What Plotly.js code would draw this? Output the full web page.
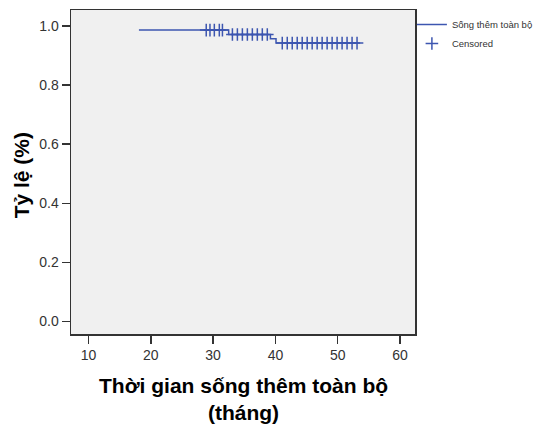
<!DOCTYPE html>
<html>
<head>
<meta charset="utf-8">
<script src="https://cdn.plot.ly/plotly-3.0.1.min.js"></script>
<style>html,body{margin:0;padding:0;background:#fff;}#chart{width:548px;height:426px;}</style>
</head>
<body>
<div id="chart"></div>
<script>
// Kaplan-Meier step function (time in months, survival proportion)
const stepTimes = [18.1, 32.5, 39.2, 40.1, 53.6];
const survival  = [0.986, 0.971, 0.957, 0.942, 0.942];

// Censored observation times
const censoredTimes = [28.9, 29.5, 30.2, 31.0, 31.5,
  33.1, 33.9, 34.7, 35.5, 36.3, 37.1, 37.9, 38.7,
  41.1, 41.9, 42.7, 43.5, 44.3, 45.1, 45.9, 46.7, 47.5, 48.3, 49.1, 49.9, 50.7, 51.5, 52.3, 53.1];

const seriesName = "Sống thêm toàn bộ";
const censoredName = "Censored";
const xTitleLines = ["Thời gian sống thêm toàn bộ", "(tháng)"];
const yTitle = "Tỷ lệ (%)";
const xTicks = [10, 20, 30, 40, 50, 60];
const yTicks = [0, 0.2, 0.4, 0.6, 0.8, 1.0];

function survAt(t) {
  let s = survival[0];
  for (let i = 0; i < stepTimes.length; i++) { if (t >= stepTimes[i]) s = survival[i]; }
  return s;
}
const censoredSurv = censoredTimes.map(survAt);

const blue = "#3d56b0";
const font = "Liberation Sans, Arial, sans-serif";

const traces = [
  {x: stepTimes, y: survival, type: "scatter", mode: "lines", line: {shape: "hv", color: blue, width: 1.5}, name: seriesName},
  {x: censoredTimes, y: censoredSurv, type: "scatter", mode: "markers", name: censoredName,
   marker: {symbol: "cross-thin-open", size: 9, color: blue, line: {color: blue, width: 1.5}}}
];

const axisCommon = {showgrid: false, zeroline: false, showline: true, linecolor: "#333", linewidth: 1.5, mirror: true,
  ticks: "outside", ticklen: 8, tickwidth: 1.5, tickcolor: "#333", tickfont: {family: font, size: 14, color: "#333"}};

const titleFont = {family: font, size: 21, color: "#000", weight: "bold"};

const layout = {
  width: 548, height: 426,
  margin: {l: 71, r: 131, t: 10, b: 92},
  paper_bgcolor: "#ffffff", plot_bgcolor: "#f0f0f0",
  showlegend: true,
  legend: {x: 0.991, y: 1.0, xanchor: "left", yanchor: "top", font: {family: font, size: 9.5, color: "#333"}, bgcolor: "rgba(0,0,0,0)", tracegroupgap: 0},
  xaxis: Object.assign({}, axisCommon, {range: [7.2, 62.4], tickvals: xTicks, ticktext: xTicks.map(String)}),
  yaxis: Object.assign({}, axisCommon, {range: [-0.042, 1.054], tickvals: yTicks, ticktext: yTicks.map(v => v.toFixed(1))}),
  annotations: [
    {text: xTitleLines.join("<br>"), xref: "paper", yref: "paper", x: 0.5, y: -0.283, xanchor: "center", yanchor: "bottom", showarrow: false, font: titleFont},
    {text: yTitle, xref: "paper", yref: "paper", x: -0.145, y: 0.49, xanchor: "center", yanchor: "middle", textangle: -90, showarrow: false, font: titleFont}
  ]
};

Plotly.newPlot("chart", traces, layout, {displayModeBar: false, staticPlot: true});
</script>
</body>
</html>
